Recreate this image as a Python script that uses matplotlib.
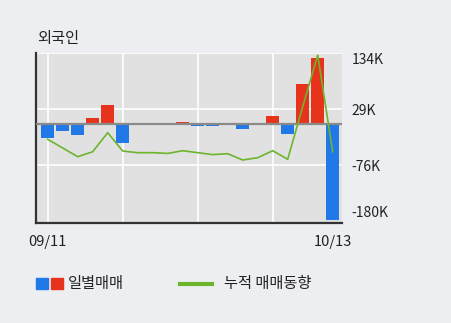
import matplotlib
matplotlib.use('Agg')
import matplotlib.pyplot as plt
from matplotlib.patches import Rectangle
from matplotlib.lines import Line2D

plt.rcParams['font.family'] = ['Noto Sans CJK KR', 'DejaVu Sans']

# ---- data (thousands of shares) ----
title = '외국인'
x_tick_pos = [0, 19]
x_tick_labels = ['09/11', '10/13']
daily = [-25, -12.5, -20, 12, 36, -35, 0, 0, 0, 5, -3, -3, 0, -9, 3, 16, -17, 76, 124, -179]
cumulative = [-27.8, -44.1, -60.4, -51.1, -15.4, -49.8, -52.9, -52.9, -54.3, -49.2,
              -52.9, -56.5, -54.8, -66.6, -62.3, -49.2, -65.3, 33.3, 130, -51.1]
y_ticks = [134, 29, -76, -180]
y_tick_labels = ['134K', '29K', '-76K', '-180K']
legend_labels = ['일별매매', '누적 매매동향']

BLUE = '#2079e6'
RED = '#e8331c'
GREEN = '#6cb52d'
FIG_BG = '#edeef2'
AX_BG = '#e1e1e1'

W, H = 451, 323
fig = plt.figure(figsize=(W / 100, H / 100), dpi=100, facecolor=FIG_BG)

ax_left, ax_right, ax_top, ax_bot = 36, 342, 53, 222.5
ax = fig.add_axes([ax_left / W, (H - ax_bot) / H, (ax_right - ax_left) / W, (ax_bot - ax_top) / H])
ax.set_facecolor(AX_BG)

n = len(daily)
xs = list(range(n))
ax.set_xlim(-0.78, 19.62)
ax.set_ylim(-183.8, 134)

# grid
for gx in [0, 5, 10, 15]:
    ax.axvline(gx, color='white', lw=1.2, zorder=1)
for gy in [134, 29, -76]:
    ax.axhline(gy, color='white', lw=1.2, zorder=1)

colors = [RED if v > 0 else BLUE for v in daily]
ax.bar(xs, daily, width=0.87, color=colors, zorder=2)
ax.axhline(0, color='#8a8a8a', lw=1.6, zorder=3)

ax2 = ax.twinx()
ax2.set_ylim(ax.get_ylim())
ax2.plot(xs, cumulative, color=GREEN, lw=1.2, zorder=4)
ax2.axis('off')

for s in ['top', 'right']:
    ax.spines[s].set_visible(False)
for s in ['left', 'bottom']:
    ax.spines[s].set_color('#333333')
    ax.spines[s].set_linewidth(1.6)

ax.yaxis.tick_right()
ax.set_yticks(y_ticks)
ax.set_yticklabels(y_tick_labels, fontsize=10, color='#222222')
ax.tick_params(axis='y', length=0, pad=7)
labs = ax.get_yticklabels()
labs[0].set_verticalalignment('top')
labs[-1].set_verticalalignment('bottom')

ax.set_xticks(x_tick_pos)
ax.set_xticklabels(x_tick_labels, fontsize=10.5, color='#222222')
ax.tick_params(axis='x', length=0, pad=9)

fig.text(37 / W, 1 - 38 / H, title, fontsize=11, va='center', ha='left', color='#222222')

# legend
ly = 283.5
fig.add_artist(Rectangle((36 / W, (H - 289) / H), 11.5 / W, 11 / H, color=BLUE, transform=fig.transFigure))
fig.add_artist(Rectangle((51 / W, (H - 289) / H), 11.5 / W, 11 / H, color=RED, transform=fig.transFigure))
fig.text(68 / W, 1 - ly / H, legend_labels[0], fontsize=11, va='center', ha='left', color='#222222')
fig.add_artist(Line2D([180 / W, 212 / W], [1 - ly / H] * 2, lw=3, color=GREEN, transform=fig.transFigure))
fig.text(224 / W, 1 - ly / H, legend_labels[1], fontsize=11, va='center', ha='left', color='#222222')

fig.savefig('out.png', dpi=100, facecolor=FIG_BG)
